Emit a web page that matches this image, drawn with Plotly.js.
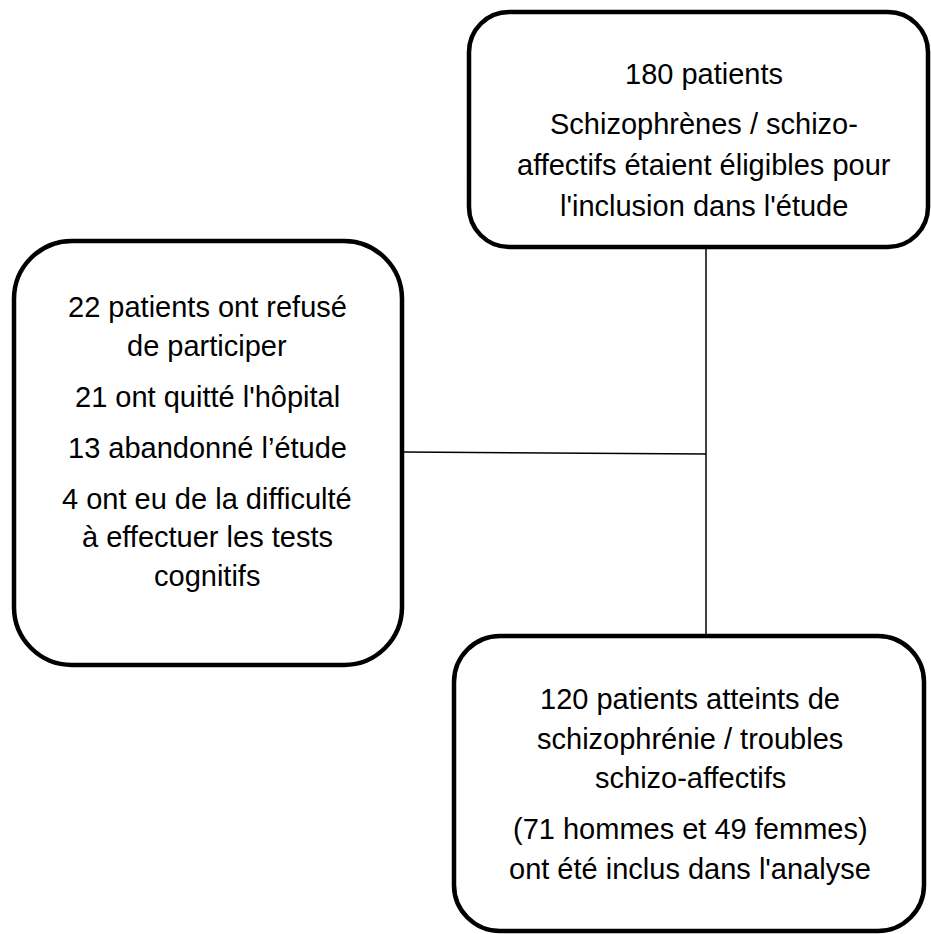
<!DOCTYPE html>
<html>
<head>
<meta charset="utf-8">
<script src="https://cdn.plot.ly/plotly-3.0.1.min.js"></script>
<style>html,body{margin:0;padding:0;background:#fff;}#chart{width:931px;height:934px;}</style>
</head>
<body>
<div id="chart"></div>
<script>
// ---- data (counts from the flow diagram) ----
const eligibleCount = 180;
const exclusionCounts = [22, 21, 13, 4];
const exclusionReasons = [
  ["patients ont refusé", "de participer"],
  ["ont quitté l'hôpital"],
  ["abandonné l’étude"],
  ["ont eu de la difficulté", "à effectuer les tests", "cognitifs"]
];
const includedCount = 120;
const sexLabels = ["hommes", "femmes"];
const sexCounts = [71, 49];

// ---- text blocks built from the data ----
const topParas = [
  [eligibleCount + " patients"],
  ["Schizophrènes / schizo-", "affectifs étaient éligibles pour", "l'inclusion dans l'étude"]
];
const leftParas = exclusionReasons.map((lines, i) => {
  const first = exclusionCounts[i] + " " + lines[0];
  return [first].concat(lines.slice(1));
});
const bottomParas = [
  [includedCount + " patients atteints de", "schizophrénie / troubles", "schizo-affectifs"],
  ["(" + sexCounts[0] + " " + sexLabels[0] + " et " + sexCounts[1] + " " + sexLabels[1] + ")", "ont été inclus dans l'analyse"]
];

// ---- layout helpers ----
function roundRect(x0, y0, x1, y1, r) {
  const k = 0.5523 * r;
  return "M" + (x0 + r) + "," + y0 +
    " L" + (x1 - r) + "," + y0 +
    " C" + (x1 - r + k) + "," + y0 + " " + x1 + "," + (y0 + r - k) + " " + x1 + "," + (y0 + r) +
    " L" + x1 + "," + (y1 - r) +
    " C" + x1 + "," + (y1 - r + k) + " " + (x1 - r + k) + "," + y1 + " " + (x1 - r) + "," + y1 +
    " L" + (x0 + r) + "," + y1 +
    " C" + (x0 + r - k) + "," + y1 + " " + x0 + "," + (y1 - r + k) + " " + x0 + "," + (y1 - r) +
    " L" + x0 + "," + (y0 + r) +
    " C" + x0 + "," + (y0 + r - k) + " " + (x0 + r - k) + "," + y0 + " " + (x0 + r) + "," + y0 + " Z";
}

const fontSpec = {family: "Liberation Sans, Arial, sans-serif", size: 29, color: "#000"};
const annotations = [];
function addParas(paras, cx, startY, lineGap, paraGap) {
  let y = startY;
  paras.forEach((lines, pi) => {
    if (pi > 0) y += paraGap - lineGap;
    lines.forEach((t) => {
      annotations.push({x: cx, y: y, xref: "x", yref: "y", text: t, showarrow: false,
        xanchor: "center", yanchor: "middle", font: fontSpec});
      y += lineGap;
    });
  });
}
addParas(topParas, 704, 74, 41, 50);
addParas(leftParas, 207, 307, 38.5, 51);
addParas(bottomParas, 690, 699, 39.5, 51);

const shapes = [
  {type: "path", path: roundRect(469, 12, 928, 247, 40), line: {color: "#000", width: 4.5}, fillcolor: "rgba(0,0,0,0)", layer: "above"},
  {type: "path", path: roundRect(14, 241, 402, 665, 58), line: {color: "#000", width: 4.5}, fillcolor: "rgba(0,0,0,0)", layer: "above"},
  {type: "path", path: roundRect(454, 636, 924, 931, 46), line: {color: "#000", width: 4.5}, fillcolor: "rgba(0,0,0,0)", layer: "above"},
  {type: "line", x0: 706, y0: 249, x1: 706, y1: 634, line: {color: "#000", width: 1.5}},
  {type: "line", x0: 404, y0: 452, x1: 706, y1: 454, line: {color: "#000", width: 1.5}}
];

const layout = {
  width: 931, height: 934,
  margin: {l: 0, r: 0, t: 0, b: 0},
  paper_bgcolor: "#fff", plot_bgcolor: "#fff",
  xaxis: {range: [0, 931], visible: false, fixedrange: true},
  yaxis: {range: [934, 0], visible: false, fixedrange: true},
  showlegend: false,
  shapes: shapes,
  annotations: annotations
};

Plotly.newPlot("chart", [], layout, {staticPlot: true, displayModeBar: false});
</script>
</body>
</html>
